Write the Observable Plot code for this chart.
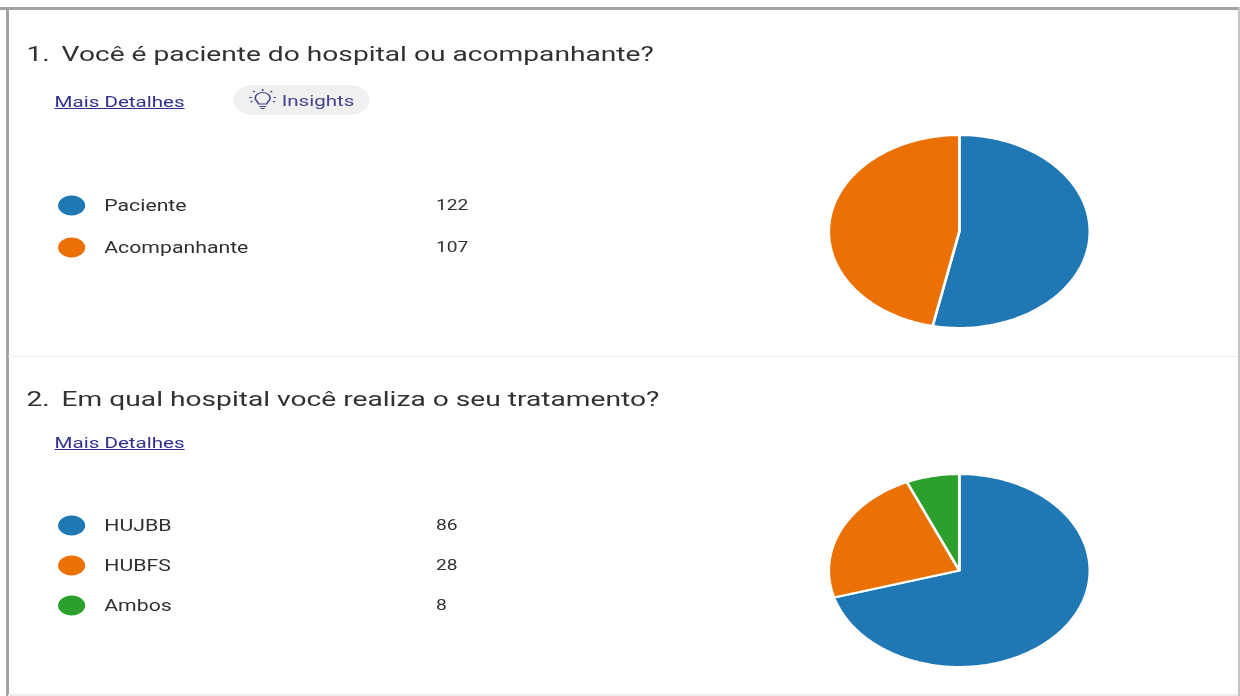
<!DOCTYPE html>
<html lang="pt">
<head>
<meta charset="utf-8">
<script src="https://cdn.jsdelivr.net/npm/d3@7"></script>
<script src="https://cdn.jsdelivr.net/npm/@observablehq/plot@0.6"></script>
<style>
html,body{margin:0;padding:0;background:#fff;width:1240px;height:696px;overflow:hidden}
#frame{position:absolute;left:0;top:0;width:1240px;height:696px}
.rule{position:absolute}
#stretch{position:absolute;left:0;top:0;width:916px;height:696px;transform:scaleX(1.354);transform-origin:0 0;font-family:Roboto,sans-serif;color:#323130;filter:blur(0.3px)}
.q{position:absolute;font-size:20.8px;line-height:26px;white-space:nowrap}
.link{position:absolute;font-size:15.2px;line-height:20px;color:#2f2f8c;text-decoration:underline;white-space:nowrap}
.pill{position:absolute;left:172px;top:85px;width:101px;height:30px;border-radius:15px;background:#f0f0f0}
.pill b{position:absolute;left:36px;top:5.5px;font-weight:400;font-size:15.2px;line-height:20px;color:#43458c}
.pill svg{position:absolute;left:11.5px;top:4px}
.abs{position:absolute}
.abs svg{display:block;overflow:visible}
</style>
</head>
<body>
<div id="frame">
  <div class="rule" style="left:0;top:7px;width:1240px;height:2.5px;background:#a3a3a3"></div>
  <div class="rule" style="left:6px;top:7px;width:2.5px;height:689px;background:#a3a3a3"></div>
  <div class="rule" style="left:1238px;top:7px;width:1.5px;height:689px;background:#c4c4c4"></div>
  <div class="rule" style="left:8px;top:356px;width:1230px;height:1px;background:#ececec"></div>
  <div class="rule" style="left:8px;top:694px;width:1230px;height:2px;background:#ececec"></div>
</div>
<div id="stretch">
  <div class="q" style="left:19.6px;top:41px">1.</div>
  <div class="q" style="left:45.5px;top:41px">Você é paciente do hospital ou acompanhante?</div>
  <div class="link" style="left:40.3px;top:92px">Mais Detalhes</div>
  <div class="pill">
    <svg width="20" height="22" viewBox="0 0 20 22" fill="none" stroke="#43458c" stroke-width="1.2">
      <path d="M7 15c0-2-2.5-3-2.5-6a5.5 5.5 0 0 1 11 0c0 3-2.5 4-2.5 6z"/>
      <path d="M7.5 17.5h5M8.5 19.5h3"/>
      <path d="M10 0v2M3 2l1.2 1.2M17 2l-1.2 1.2M0 8.5h2M18 8.5h2M1 13l1.5-.8M19 13l-1.5-.8"/>
    </svg>
    <b>Insights</b>
  </div>
  <div class="q" style="left:19.6px;top:386px">2.</div>
  <div class="q" style="left:45.5px;top:386px">Em qual hospital você realiza o seu tratamento?</div>
  <div class="link" style="left:40.3px;top:433px">Mais Detalhes</div>
</div>
<script>
const names1 = ["Paciente", "Acompanhante"];
const values1 = [122, 107];
const names2 = ["HUJBB", "HUBFS", "Ambos"];
const values2 = [86, 28, 8];
const palette = ["#1f77b4", "#ec7105", "#2ca02c"];

const stretch = document.getElementById("stretch");
const place = (node, left, top) => {
  const box = document.createElement("div");
  box.className = "abs";
  box.style.left = left + "px";
  box.style.top = top + "px";
  box.append(node);
  stretch.append(box);
};

function wedges(names, values) {
  const arcs = d3.pie().sort(null).startAngle(0).endAngle(2 * Math.PI)(values);
  return arcs.flatMap((a, i) => {
    const n = Math.max(2, Math.ceil((a.endAngle - a.startAngle) * 40));
    const rim = d3.range(n + 1).map(k => {
      const t = a.startAngle + (a.endAngle - a.startAngle) * k / n;
      return {name: names[i], px: Math.sin(t), py: Math.cos(t)};
    });
    const hub = {name: names[i], px: 0, py: 0};
    return [hub, ...rim, hub];
  });
}

function pie(names, values) {
  const size = 200, inset = 3.6;
  return Plot.plot({
    width: size, height: size, margin: 0,
    x: {domain: [-1, 1], range: [inset, size - inset], axis: null},
    y: {domain: [-1, 1], range: [size - inset, inset], axis: null},
    color: {domain: names, range: palette},
    style: {background: "transparent"},
    marks: [
      Plot.line(wedges(names, values), {
        x: "px", y: "py", z: "name", fill: "name",
        stroke: "#fff", strokeWidth: 2, strokeLinejoin: "miter", curve: "linear"
      })
    ]
  });
}

function legend(names, values, rowExtent, height) {
  const rows = names.map((name, i) => ({name, value: values[i]}));
  const common = {y: "name", frameAnchor: "left"};
  return Plot.plot({
    width: 400, height, margin: 0,
    y: {type: "point", domain: names, range: rowExtent, padding: 0, axis: null},
    color: {domain: names, range: palette},
    style: {background: "transparent", fontFamily: "Roboto,sans-serif"},
    marks: [
      Plot.dot(rows, {...common, dx: 52.4, r: 10, fill: "name"}),
      Plot.text(rows, {...common, text: "name", dx: 76.5, textAnchor: "start", fontSize: 15.7, fill: "#323130"}),
      Plot.text(rows, {...common, text: d => String(d.value), dx: 321.5, textAnchor: "start", fontSize: 14.2, fill: "#323130"})
    ]
  });
}

place(legend(names1, values1, [20, 62], 90), 0, 185);
place(legend(names2, values2, [20, 101], 130), 0, 503.5);
place(pie(names1, values1), 608.3, 131);
place(pie(names2, values2), 608.3, 470);
</script>
</body>
</html>
